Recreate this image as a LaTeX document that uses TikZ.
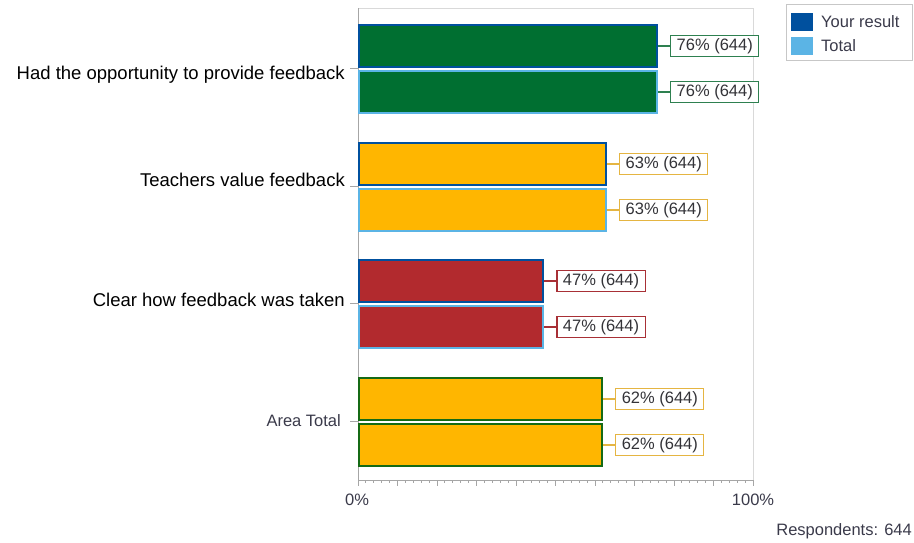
\documentclass[tikz,border=0pt]{standalone}
\usepackage{fontspec}
\setmainfont{Liberation Sans}
\usetikzlibrary{positioning}
\definecolor{barGreen}{HTML}{006F31}
\definecolor{barAmber}{HTML}{FFB600}
\definecolor{barRed}{HTML}{B22A2E}
\definecolor{resBlue}{HTML}{00509E}
\definecolor{totBlue}{HTML}{5BB4E5}
\definecolor{areaGreen}{HTML}{156A15}
\definecolor{lblGreen}{HTML}{2E8050}
\definecolor{lblAmber}{HTML}{E5B542}
\definecolor{lblRed}{HTML}{A83036}
\definecolor{frameGray}{HTML}{D9D9D9}
\definecolor{axisGray}{HTML}{A6A6A6}
\definecolor{txtGray}{HTML}{333338}
\definecolor{axisText}{HTML}{3A3A4A}
\newcommand{\respbar}[5]{\node[bar, fill=#4, draw=#5, minimum width=#3*3.92pt] (#1) at (358.2, #2+1) {};}
\newcommand{\vallabel}[3]{\node[vlabel, draw=#3, right=12pt of #1] (#1v) {#2\% (644)};
  \draw[#3, line width=1.1pt] (#1.east) -- (#1v.west);}
\tikzset{
  bar/.style={rectangle, anchor=north west, minimum height=42pt, inner sep=0pt, line width=2pt},
  vlabel/.style={rectangle, fill=white, line width=1.1pt, inner xsep=6pt, inner ysep=0pt,
    minimum height=21pt, text=txtGray, font=\fontsize{16.5}{18}\selectfont},
  catlabel/.style={anchor=east, inner sep=0pt, font=\fontsize{18.5}{20}\selectfont},
  smalltext/.style={inner sep=0pt, text=axisText, font=\fontsize{16.5}{18}\selectfont},
}
\begin{document}
\begin{tikzpicture}[x=1pt,y=-1pt]
\useasboundingbox (0,0) rectangle (914,542);
% plot frame
\draw[frameGray, line width=1pt] (358,8) -- (753,8) -- (753,480);
\draw[axisGray, line width=1pt] (358,8) -- (358,480) -- (753,480);
% x ticks
\foreach \i in {0,...,50} { \draw[axisGray, line width=1pt] (358+\i*7.9,480) -- ++(0,3); }
\foreach \i in {0,...,10} { \draw[axisGray, line width=1pt] (358+\i*39.5,480) -- ++(0,6); }
% category ticks
\foreach \y in {68,186,303,421} { \draw[axisGray, line width=1pt] (350,\y) -- (358,\y); }
% row1
\respbar{b1}{23}{76}{barGreen}{resBlue}
\respbar{b2}{69}{76}{barGreen}{totBlue}
% row2
\respbar{b3}{141}{63}{barAmber}{resBlue}
\respbar{b4}{187}{63}{barAmber}{totBlue}
% row3
\respbar{b5}{258}{47}{barRed}{resBlue}
\respbar{b6}{304}{47}{barRed}{totBlue}
% row4
\respbar{b7}{376}{62}{barAmber}{areaGreen}
\respbar{b8}{422}{62}{barAmber}{areaGreen}
% value labels
\vallabel{b1}{76}{lblGreen}
\vallabel{b2}{76}{lblGreen}
\vallabel{b3}{63}{lblAmber}
\vallabel{b4}{63}{lblAmber}
\vallabel{b5}{47}{lblRed}
\vallabel{b6}{47}{lblRed}
\vallabel{b7}{62}{lblAmber}
\vallabel{b8}{62}{lblAmber}
% category labels
\node[catlabel] (c1) at (345,75) {Had the opportunity to provide feedback};
\node[catlabel] (c2) at (345,180) {Teachers value feedback};
\node[catlabel] (c3) at (345,300) {Clear how feedback was taken};
\node[catlabel, smalltext, anchor=east] (c4) at (341,421) {Area Total};
% axis labels
\node[smalltext] (x0) at (357,500) {0\%};
\node[smalltext] (x100) at (753,500) {100\%};
\node[smalltext, anchor=east] (resp) at (912,531) {Respondents: 644};
% legend
\draw[frameGray!80!gray, line width=1pt] (786,4) rectangle (912,60);
\fill[resBlue] (791,13) rectangle (813,31);
\fill[totBlue] (791,37) rectangle (813,55);
\node[smalltext, anchor=west] (l1) at (821,22) {Your result};
\node[smalltext, anchor=west] (l2) at (821,46) {Total};
\end{tikzpicture}
\end{document}
